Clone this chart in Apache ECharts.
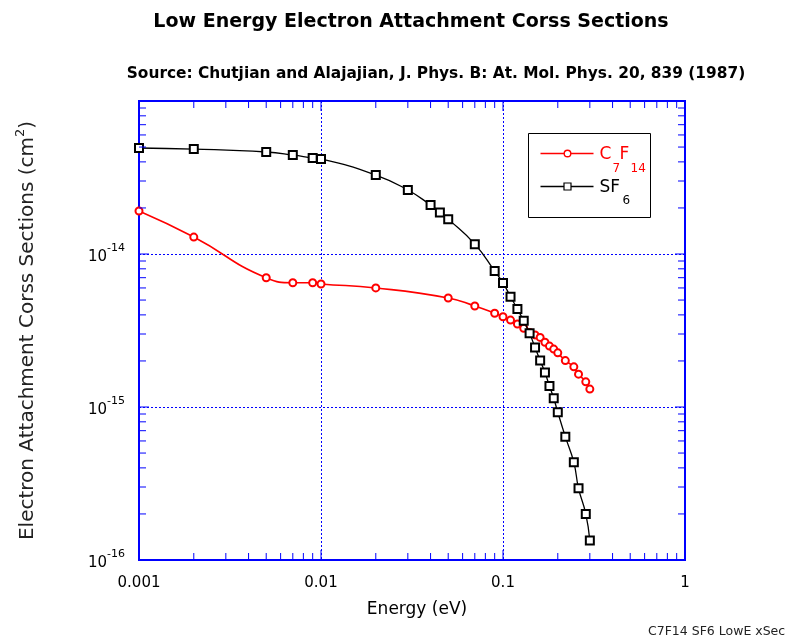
<!DOCTYPE html>
<html>
<head>
<meta charset="utf-8">
<title>Low Energy Electron Attachment Cross Sections</title>
<script src="https://cdn.jsdelivr.net/npm/echarts@6/dist/echarts.min.js"></script>
<style>
  html, body { margin: 0; padding: 0; background: #fff; }
  #chart { width: 785px; height: 640px; }
</style>
</head>
<body>
<div id="chart"></div>
<script>
// Energies (eV) and attachment cross sections (cm^2)
const c7f14Energy = [0.001, 0.002, 0.005, 0.007, 0.009, 0.01, 0.02, 0.05, 0.07, 0.09, 0.1, 0.11, 0.12,
  0.13, 0.14, 0.15, 0.16, 0.17, 0.18, 0.19, 0.2, 0.22, 0.245, 0.26, 0.285, 0.3];
const c7f14Sigma = [1.91e-14, 1.29e-14, 7.0e-15, 6.49e-15, 6.49e-15, 6.37e-15, 6.0e-15, 5.16e-15, 4.57e-15,
  4.1e-15, 3.89e-15, 3.7e-15, 3.49e-15, 3.27e-15, 3.07e-15, 2.96e-15, 2.85e-15, 2.65e-15, 2.5e-15,
  2.39e-15, 2.26e-15, 2.01e-15, 1.83e-15, 1.64e-15, 1.46e-15, 1.31e-15];

const sf6Energy = [0.001, 0.002, 0.005, 0.007, 0.009, 0.01, 0.02, 0.03, 0.04, 0.045, 0.05, 0.07, 0.09, 0.1,
  0.11, 0.12, 0.13, 0.14, 0.15, 0.16, 0.17, 0.18, 0.19, 0.2, 0.22, 0.245, 0.26, 0.285, 0.3];
const sf6Sigma = [4.93e-14, 4.85e-14, 4.64e-14, 4.44e-14, 4.24e-14, 4.18e-14, 3.28e-14, 2.62e-14, 2.09e-14,
  1.87e-14, 1.69e-14, 1.16e-14, 7.74e-15, 6.47e-15, 5.26e-15, 4.37e-15, 3.66e-15, 3.03e-15, 2.45e-15,
  2.01e-15, 1.68e-15, 1.37e-15, 1.14e-15, 9.23e-16, 6.4e-16, 4.35e-16, 2.94e-16, 2.0e-16, 1.34e-16];

// Axis ranges and tick labels
const X_MIN = 0.001, X_MAX = 1;
const Y_MIN = 1e-16, Y_MAX = 1e-13;
const xTickValues = [0.001, 0.01, 0.1, 1];
const xTickLabels = ['0.001', '0.01', '0.1', '1'];
const yTickExponents = [-16, -15, -14];

const BLUE = '#0000ff';
const RED = '#ff0000';
const FONT = '"DejaVu Sans", "Liberation Sans", sans-serif';

function pairs(xs, ys) { return xs.map((x, i) => [x, ys[i]]); }

// Major (decade) and minor (2..9) tick positions inside a log range
function logTicks(lo, hi) {
  const out = [];
  const d0 = Math.round(Math.log10(lo)), d1 = Math.round(Math.log10(hi));
  for (let d = d0; d <= d1; d++) {
    const base = Math.pow(10, d);
    out.push([base, 1]);
    if (d < d1) {
      for (let m = 2; m <= 9; m++) out.push([m * base, 0]);
    }
  }
  return out;
}
const xTicks = logTicks(X_MIN, X_MAX).map(t => [t[0], Y_MIN, t[1]]);
const yTicks = logTicks(Y_MIN, Y_MAX).map(t => [X_MIN, t[0], t[1]]);

const MAJOR_LEN = 10, MINOR_LEN = 7;

function tickLine(x1, y1, x2, y2) {
  return { type: 'line', shape: { x1, y1, x2, y2 }, style: { stroke: BLUE, lineWidth: 1 } };
}

// Boxed key with chemical formulas (subscripted digits)
function keyText(x, y, text, size, color) {
  return { type: 'text', x: x, y: y, silent: true,
    style: { text: text, fontSize: size, fontFamily: FONT, fill: color, verticalAlign: 'middle', align: 'left' } };
}
const legendBox = {
  type: 'group', left: 528, top: 133, z: 20,
  children: [
    { type: 'rect', shape: { x: 0, y: 0, width: 122, height: 84 }, style: { fill: '#fff', stroke: '#000', lineWidth: 1 } },
    { type: 'line', shape: { x1: 12, y1: 20, x2: 65, y2: 20 }, style: { stroke: RED, lineWidth: 1.6 } },
    { type: 'circle', shape: { cx: 39, cy: 20, r: 3.3 }, style: { fill: '#fff', stroke: RED, lineWidth: 1.4 } },
    keyText(71, 21, 'C', 17, RED),
    keyText(84, 35, '7', 12, RED),
    keyText(91, 21, 'F', 17, RED),
    keyText(102, 35, '14', 12, RED),
    { type: 'line', shape: { x1: 12, y1: 53, x2: 65, y2: 53 }, style: { stroke: '#000', lineWidth: 1.3 } },
    { type: 'rect', shape: { x: 35.5, y: 49.5, width: 7, height: 7 }, style: { fill: '#fff', stroke: '#000', lineWidth: 1.2 } },
    keyText(71, 54, 'SF', 17, '#000'),
    keyText(94, 67, '6', 12, '#000')
  ]
};

const chart = echarts.init(document.getElementById('chart'), null, { renderer: 'canvas' });

chart.setOption({
  backgroundColor: '#fff',
  animation: false,
  textStyle: { fontFamily: FONT },
  title: [
    {
      text: 'Low Energy Electron Attachment Corss Sections',
      left: 406, top: 8, textAlign: 'center',
      textStyle: { fontSize: 19, fontWeight: 'bold', color: '#000', fontFamily: FONT }
    },
    {
      text: 'Source: Chutjian and Alajajian, J. Phys. B: At. Mol. Phys. 20, 839 (1987)',
      left: 431, top: 61, textAlign: 'center',
      textStyle: { fontSize: 15.4, fontWeight: 'bold', color: '#000', fontFamily: FONT }
    }
  ],
  grid: {
    left: 139, right: 100, top: 101, bottom: 80,
    show: true, borderColor: BLUE, borderWidth: 2, backgroundColor: '#fff'
  },
  xAxis: {
    type: 'log', logBase: 10, min: X_MIN, max: X_MAX,
    name: 'Energy (eV)', nameLocation: 'middle', nameGap: 41,
    nameTextStyle: { fontSize: 17, color: '#000', fontFamily: FONT, padding: [0, 0, 0, 10] },
    axisLine: { show: false },
    axisTick: { show: false },
    axisLabel: {
      margin: 16, fontSize: 15, color: '#000', fontFamily: FONT,
      formatter: function (v) {
        const i = xTickValues.findIndex(t => Math.abs(Math.log10(t) - Math.log10(v)) < 1e-6);
        return i >= 0 ? xTickLabels[i] : '';
      }
    },
    splitLine: { show: true, lineStyle: { color: BLUE, type: [2, 2], width: 1, opacity: 1 } }
  },
  yAxis: {
    type: 'log', logBase: 10, min: Y_MIN, max: Y_MAX,
    name: '{n|Electron Attachment Corss Sections (cm}{p|2}{n|)}',
    nameLocation: 'middle', nameGap: 101, nameRotate: 90,
    nameTextStyle: {
      color: '#222',
      rich: {
        n: { fontSize: 20, color: '#222', fontFamily: FONT, verticalAlign: 'bottom', lineHeight: 24 },
        p: { fontSize: 13, color: '#222', fontFamily: FONT, verticalAlign: 'top', lineHeight: 24 }
      }
    },
    axisLine: { show: false },
    axisTick: { show: false },
    axisLabel: {
      margin: 14, color: '#000',
      formatter: function (v) {
        const e = Math.round(Math.log10(v));
        return yTickExponents.indexOf(e) >= 0 ? '{b|10}{e|' + e + '}' : '';
      },
      rich: {
        b: { fontSize: 15, color: '#000', fontFamily: FONT, verticalAlign: 'bottom', lineHeight: 22 },
        e: { fontSize: 11, color: '#000', fontFamily: FONT, verticalAlign: 'top', lineHeight: 22 }
      }
    },
    splitLine: { show: true, lineStyle: { color: BLUE, type: [2, 2], width: 1, opacity: 1 } }
  },
  series: [
    {
      name: 'C7F14', type: 'line', smooth: 0.5,
      data: pairs(c7f14Energy, c7f14Sigma),
      symbol: 'emptyCircle', symbolSize: 7, showAllSymbol: true,
      lineStyle: { color: RED, width: 1.6 },
      itemStyle: { color: RED, borderColor: RED, borderWidth: 1.4 },
      z: 3
    },
    {
      name: 'SF6', type: 'line', smooth: 0.5,
      data: pairs(sf6Energy, sf6Sigma),
      symbol: 'emptyRect', symbolSize: 8, showAllSymbol: true,
      lineStyle: { color: '#000', width: 1.3 },
      itemStyle: { color: '#000', borderColor: '#000', borderWidth: 1.2 },
      z: 4
    },
    {
      // inward ticks along bottom and top edges
      type: 'custom', silent: true, z: 6,
      data: xTicks,
      renderItem: function (params, api) {
        const v = api.value(0), major = api.value(2);
        const len = major ? MAJOR_LEN : MINOR_LEN;
        const b = api.coord([v, Y_MIN]);
        const t = api.coord([v, Y_MAX]);
        return {
          type: 'group',
          children: [tickLine(b[0], b[1], b[0], b[1] - len), tickLine(t[0], t[1], t[0], t[1] + len)]
        };
      }
    },
    {
      // inward ticks along left and right edges
      type: 'custom', silent: true, z: 6,
      data: yTicks,
      renderItem: function (params, api) {
        const v = api.value(1), major = api.value(2);
        const len = major ? MAJOR_LEN : MINOR_LEN;
        const l = api.coord([X_MIN, v]);
        const r = api.coord([X_MAX, v]);
        return {
          type: 'group',
          children: [tickLine(l[0], l[1], l[0] + len, l[1]), tickLine(r[0], r[1], r[0] - len, r[1])]
        };
      }
    }
  ],
  graphic: [
    legendBox,
    {
      type: 'text', left: 648, top: 625,
      style: { text: 'C7F14 SF6 LowE xSec', fontSize: 12.5, fill: '#222', fontFamily: FONT }
    }
  ]
});
</script>
</body>
</html>
